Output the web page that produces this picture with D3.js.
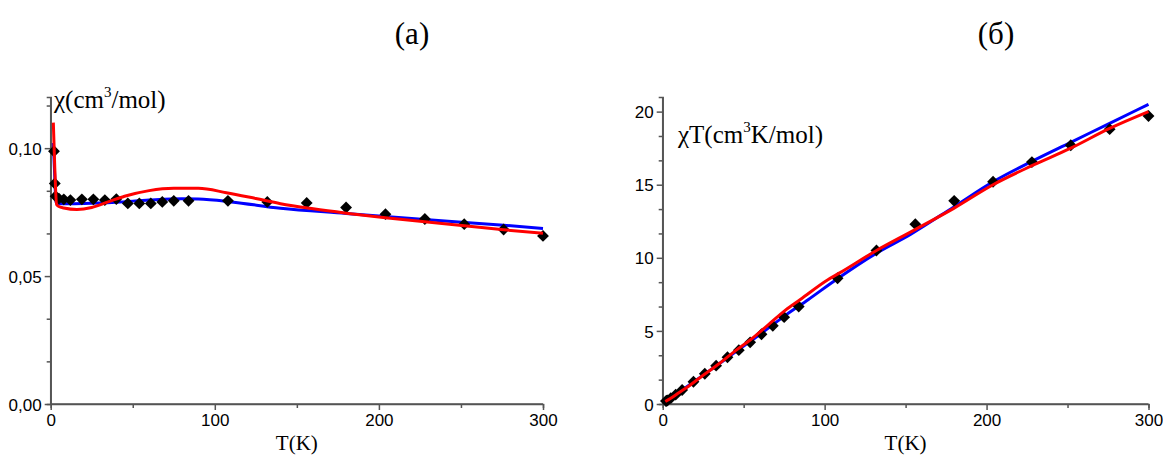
<!DOCTYPE html>
<html>
<head>
<meta charset="utf-8">
<script src="https://cdn.jsdelivr.net/npm/d3@7"></script>
<style>
  body { margin: 0; background: #fff; }
  svg { display: block; }
  .tick text { font-family: "Liberation Sans", Arial, sans-serif; font-size: 17px; fill: #000; }
  .axis path, .axis line { stroke: #555; stroke-width: 1.5px; }
</style>
</head>
<body>
<svg id="chart" width="1163" height="457"></svg>
<script>
// measured points, panel (a): chi vs T
var tempA = [2, 2.5, 3, 5, 8, 12, 19, 26, 33, 40, 47, 54, 61, 68, 75, 84, 108, 132, 156, 180, 204, 228, 252, 276, 300];
var chiA = [0.0988, 0.0862, 0.0812, 0.0803, 0.0800, 0.0797, 0.0800, 0.0800, 0.0797, 0.0801, 0.0784, 0.0784, 0.0784,
            0.0790, 0.0794, 0.0794, 0.0794, 0.0790, 0.0786, 0.0768, 0.0742, 0.0723, 0.0703, 0.0682, 0.0657];

// fitted curves, panel (a)
var blueTA = [1.6, 2.4, 3.2, 5, 10, 20, 40, 60, 80, 90, 110, 140, 180, 228, 276, 300];
var blueA = [0.102, 0.090, 0.0788, 0.0784, 0.0783, 0.0784, 0.0789, 0.0797, 0.0802, 0.0801, 0.0790, 0.0765, 0.0745, 0.0721, 0.0699, 0.0686];
var redTA = [1.6, 2.5, 3.6, 5, 8, 16, 25, 35, 45, 60, 75, 90, 107, 125, 140, 160, 180, 204, 228, 252, 276, 300];
var redA = [0.110, 0.092, 0.0780, 0.0772, 0.0766, 0.0760, 0.0768, 0.0790, 0.0812, 0.0834, 0.0843, 0.0843, 0.0826,
            0.0803, 0.0783, 0.0763, 0.0746, 0.0728, 0.0712, 0.0697, 0.0681, 0.0667];

// measured points, panel (b): chiT vs T
var tempB = [2, 2.5, 3, 5, 8, 12, 19, 26, 33, 40, 47, 54, 61, 68, 75, 84, 108, 132, 156, 180, 204, 228, 252, 276, 300];
var chiTB = [0.20, 0.22, 0.25, 0.40, 0.64, 0.96, 1.52, 2.07, 2.62, 3.20, 3.68, 4.22, 4.77, 5.35, 5.94, 6.67,
             8.60, 10.5, 12.3, 13.9, 15.2, 16.55, 17.7, 18.8, 19.7];

// fitted curves, panel (b)
var blueTB = [1.6, 5, 10, 20, 30, 40, 50, 60, 76, 90, 107, 132, 153, 180, 204, 228, 252, 276, 300];
var blueB = [0.16, 0.39, 0.79, 1.58, 2.37, 3.16, 3.97, 4.76, 6.08, 7.15, 8.5, 10.32, 11.6, 13.5, 15.2, 16.6, 17.9, 19.2, 20.5];
var redTB = [1.6, 5, 10, 16, 23, 35, 45, 54, 65, 76, 85, 102, 109, 132, 153, 180, 204, 228, 252, 276, 300];
var redB = [0.17, 0.39, 0.77, 1.22, 1.80, 2.77, 3.65, 4.38, 5.40, 6.44, 7.15, 8.50, 8.95, 10.5, 11.76, 13.4, 15.0, 16.3, 17.5, 18.85, 20.0];

var serif = "'Liberation Serif', 'Times New Roman', serif";
var svg = d3.select("#chart");

function panel(opt) {
  var x = d3.scaleLinear().domain([0, 300]).range(opt.xr);
  var y = d3.scaleLinear().domain(opt.yd).range([404, 97]);
  var g = svg.append("g");

  // minor ticks first
  g.append("g").attr("class", "axis")
      .attr("transform", "translate(0,404)")
      .call(d3.axisBottom(x).tickValues([50, 150, 250]).tickSize(4).tickFormat(""));
  g.append("g").attr("class", "axis")
      .attr("transform", "translate(" + opt.xr[0] + ",0)")
      .call(d3.axisLeft(y).tickValues(opt.minor).tickSize(4).tickFormat(""));

  // main axes
  g.append("g").attr("class", "axis")
      .attr("transform", "translate(0,404)")
      .call(d3.axisBottom(x).tickValues([0, 100, 200, 300]).tickSize(6).tickPadding(4))
      .call(function(a) { a.select(".domain").attr("d", "M" + opt.xr[0] + ",0H" + opt.xr[1]); });
  g.append("g").attr("class", "axis")
      .attr("transform", "translate(" + opt.xr[0] + ",0)")
      .call(d3.axisLeft(y).tickValues(opt.major).tickSize(6).tickPadding(3).tickFormat(opt.fmt))
      .call(function(a) { a.select(".domain").attr("d", "M0,404V97"); a.selectAll(".tick text").attr("dy", "0.36em"); });

  var line = d3.line().curve(d3.curveMonotoneX)
      .x(function(d) { return x(d[0]); })
      .y(function(d) { return y(d[1]); });

  g.append("path").datum(d3.zip(opt.blueT, opt.blue))
      .attr("d", line).attr("fill", "none").attr("stroke", "#0000ff").attr("stroke-width", 3);

  g.selectAll(".pt").data(d3.zip(opt.ptT, opt.pt)).enter().append("path")
      .attr("class", "pt")
      .attr("d", d3.symbol().type(d3.symbolSquare).size(70))
      .attr("transform", function(d) { return "translate(" + x(d[0]) + "," + y(d[1]) + ") rotate(45)"; })
      .attr("fill", "#000");

  g.append("path").datum(d3.zip(opt.redT, opt.red))
      .attr("d", line).attr("fill", "none").attr("stroke", "#ff0000").attr("stroke-width", 3);

  // y label with superscript
  var yl = g.append("text").attr("x", opt.ylx).attr("y", opt.yly)
      .style("font-family", serif).style("font-size", "25px");
  yl.append("tspan").text(opt.ylab[0]);
  yl.append("tspan").attr("dy", -11).style("font-size", "15px").text("3");
  yl.append("tspan").attr("dy", 11).text(opt.ylab[1]);

  g.append("text")
      .attr("x", (opt.xr[0] + opt.xr[1]) / 2).attr("y", 450)
      .attr("text-anchor", "middle")
      .style("font-family", serif).style("font-size", "21px").text("T(K)");

  g.append("text")
      .attr("x", opt.tx).attr("y", 44)
      .attr("text-anchor", "middle")
      .style("font-family", serif).style("font-size", "31px").text(opt.title);
}

var commaFmt = function(v) { return d3.format(".2f")(v).replace(".", ","); };

panel({
  xr: [50.7, 543], yd: [0, 0.12],
  major: [0, 0.05, 0.10],
  minor: [0.05 / 3, 0.1 / 3, 0.2 / 3, 0.25 / 3, 0.35 / 3],
  fmt: commaFmt,
  ptT: tempA, pt: chiA,
  blueT: blueTA, blue: blueA, redT: redTA, red: redA,
  ylab: ["\u03c7(cm", "/mol)"], ylx: 54, yly: 108,
  title: "(a)", tx: 412
});

panel({
  xr: [662.7, 1148.5], yd: [0, 21],
  major: [0, 5, 10, 15, 20],
  minor: [5 / 3, 10 / 3, 20 / 3, 25 / 3, 35 / 3, 40 / 3, 50 / 3, 55 / 3],
  fmt: d3.format("d"),
  ptT: tempB, pt: chiTB,
  blueT: blueTB, blue: blueB, redT: redTB, red: redB,
  ylab: ["\u03c7T(cm", "K/mol)"], ylx: 678, yly: 143,
  title: "(\u0431)", tx: 996
});
</script>
</body>
</html>
